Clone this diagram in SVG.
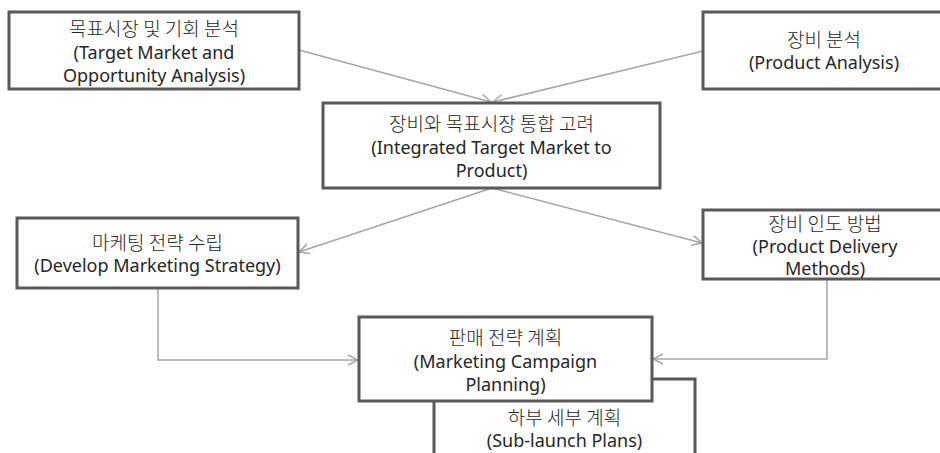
<svg xmlns="http://www.w3.org/2000/svg" width="940" height="453" viewBox="0 0 940 453">
<style>
.box{fill:#fff;stroke:#595959;stroke-width:3}
.t{font-family:"Noto Sans","Noto Sans CJK KR",sans-serif;font-size:18px;fill:#262626;text-anchor:middle;dominant-baseline:central}
.k{font-family:"Noto Sans CJK KR",sans-serif;font-size:19px;font-weight:300}
.c{fill:none;stroke:#a6a6a6;stroke-width:1.5}
</style>
<defs>
<marker id="a" markerWidth="12" markerHeight="12" refX="11" refY="6" orient="auto" markerUnits="userSpaceOnUse">
<path d="M1,1 L11,6 L1,11" fill="none" stroke="#a6a6a6" stroke-width="1.5"/>
</marker>
</defs>
<g id="connectors">
<path class="c" d="M299,50 L491,102" marker-end="url(#a)"/>
<path class="c" d="M703,51 L493,102" marker-end="url(#a)"/>
<path class="c" d="M492,188 L299,252" marker-end="url(#a)"/>
<path class="c" d="M492,188 L702,243" marker-end="url(#a)"/>
<path class="c" d="M158,288 V360 H358" marker-end="url(#a)"/>
<path class="c" d="M827,279 V359 H653" marker-end="url(#a)"/>
</g>
<g id="n1">
<rect class="box" x="9" y="12" width="290" height="77"/>
<text class="t k" x="154" y="27">목표시장 및 기회 분석</text>
<text class="t" x="154" y="52">(Target Market and</text>
<text class="t" x="154" y="75">Opportunity Analysis)</text>
</g>
<g id="n2">
<rect class="box" x="703" y="12" width="242" height="77"/>
<text class="t k" x="824" y="38">장비 분석</text>
<text class="t" x="824" y="62">(Product Analysis)</text>
</g>
<g id="n3">
<rect class="box" x="323" y="103" width="337" height="85"/>
<text class="t k" x="491.5" y="122">장비와 목표시장 통합 고려</text>
<text class="t" x="491.5" y="147">(Integrated Target Market to</text>
<text class="t" x="491.5" y="170">Product)</text>
</g>
<g id="n4">
<rect class="box" x="17" y="218" width="281" height="70"/>
<text class="t k" x="157.5" y="241">마케팅 전략 수립</text>
<text class="t" x="157.5" y="265">(Develop Marketing Strategy)</text>
</g>
<g id="n5">
<rect class="box" x="703" y="210" width="242" height="69"/>
<text class="t k" x="825" y="222">장비 인도 방법</text>
<text class="t" x="825" y="246">(Product Delivery</text>
<text class="t" x="825" y="268">Methods)</text>
</g>
<g id="n7">
<rect class="box" x="434" y="379" width="261" height="100"/>
<text class="t k" x="564.5" y="416">하부 세부 계획</text>
<text class="t" x="564.5" y="440">(Sub-launch Plans)</text>
</g>
<g id="n6">
<rect class="box" x="359" y="317" width="293" height="84"/>
<text class="t k" x="505.5" y="336">판매 전략 계획</text>
<text class="t" x="505.5" y="361">(Marketing Campaign</text>
<text class="t" x="505.5" y="384">Planning)</text>
</g>
</svg>
